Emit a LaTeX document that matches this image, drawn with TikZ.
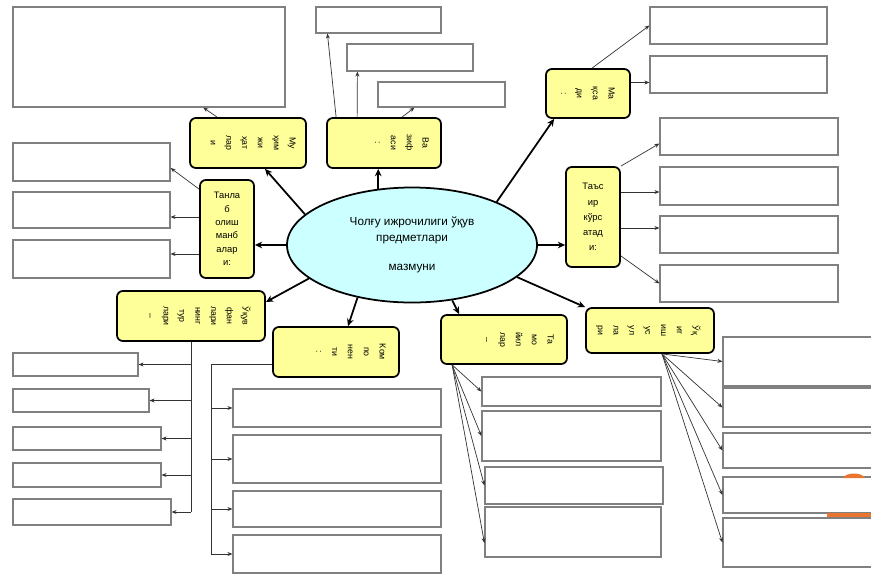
\documentclass[tikz,border=0pt]{standalone}
\usepackage{fontspec}
\setmainfont{Liberation Sans}
\usepackage{tikz}
\usetikzlibrary{calc}
\usetikzlibrary{arrows.meta}
\usetikzlibrary{shapes.geometric}
\definecolor{boxyellow}{RGB}{255,255,153}
\definecolor{topiccyan}{RGB}{204,255,255}
\definecolor{boxgray}{RGB}{128,128,128}
\definecolor{markorange}{RGB}{232,118,48}
\tikzstyle{topicnode}=[black, draw=black, line width=1.5pt, shape=ellipse, fill=topiccyan, inner sep=0pt, align=center, font=\fontsize{10}{13.5}\selectfont]
\tikzstyle{headnode}=[black, draw=black, line width=1.5pt, shape=rectangle, rounded corners=5pt, fill=boxyellow, inner sep=0pt, align=center, font=\fontsize{8}{11.5}\selectfont]
\tikzstyle{sidetext}=[black, inner sep=0pt, align=center, rotate=-90, anchor=north, font=\fontsize{7.5}{13.5}\selectfont]
\tikzstyle{fieldnode}=[draw=boxgray, line width=1pt, shape=rectangle, fill=white, inner sep=0pt]
\tikzstyle{bigarrow}=[-{Stealth[length=0.22cm, width=0.2cm]}, line width=1.5pt, color=black]
\tikzstyle{smallarrow}=[-{Stealth[length=0.15cm, width=0.12cm]}, line width=0.6pt, color=black!80]
\tikzstyle{smallline}=[line width=0.6pt, color=black!80]

\begin{document}
\begin{tikzpicture}[x=0.03cm, y=-0.03cm]
\useasboundingbox (0,0) rectangle (871,574);
\clip (0,0) rectangle (871,574);

\node [topicnode, minimum width=7.5cm, minimum height=3.45cm] (content) at (412,245) {Чолғу ижрочилиги ўқув\\предметлари\\[12pt]мазмуни};

\node [headnode, minimum width=3.48cm, minimum height=1.5cm] (aspects) at (248,143) {};
\node [headnode, minimum width=3.42cm, minimum height=1.5cm] (tasks) at (384,143) {};
\node [headnode, minimum width=1.62cm, minimum height=2.94cm] (sources) at (227,229) {Танла\\б\\олиш\\манб\\алар\\и:};
\node [headnode, minimum width=2.52cm, minimum height=1.47cm] (goal) at (588,93.5) {};
\node [headnode, minimum width=1.62cm, minimum height=3cm, font=\fontsize{8}{13}\selectfont] (influence) at (593,217) {Таъс\\ир\\кўрс\\атад\\и:};
\node [headnode, minimum width=4.44cm, minimum height=1.5cm] (types) at (191,316) {};
\node [headnode, minimum width=3.78cm, minimum height=1.5cm] (parts) at (336,352) {};
\node [headnode, minimum width=3.78cm, minimum height=1.47cm] (principles) at (504,339.5) {};
\node [headnode, minimum width=3.84cm, minimum height=1.35cm] (methods) at (650,330.5) {};

\node [sidetext] (aspectstext) at ($(aspects.east)-(11,0)$) {Му\\ҳим\\жи\\ҳат\\лар\\и};
\node [sidetext] (taskstext) at ($(tasks.east)-(13,0)$) {Ва\\зиф\\аси\\:};
\node [sidetext] (goaltext) at ($(goal.east)-(16,0)$) {Ма\\қса\\ди\\:};
\node [sidetext] (typestext) at ($(types.east)-(15,0)$) {Ўқув\\фан\\лари\\нинг\\тур\\лари\\–};
\node [sidetext] (partstext) at ($(parts.east)-(14,0)$) {Ком\\по\\нен\\ти\\:};
\node [sidetext] (principlestext) at ($(principles.east)-(14,0)$) {Та\\мо\\йил\\лар\\–};
\node [sidetext] (methodstext) at ($(methods.east)-(14,0)$) {Ўқ\\ит\\иш\\ус\\ул\\ла\\ри};

\node [fieldnode, minimum width=8.16cm, minimum height=3cm] (aspects0) at (149,57) {};
\node [fieldnode, minimum width=4.71cm, minimum height=1.14cm] (sources0) at (91.5,162) {};
\node [fieldnode, minimum width=4.71cm, minimum height=1.08cm] (sources1) at (91.5,210) {};
\node [fieldnode, minimum width=4.71cm, minimum height=1.14cm] (sources2) at (91.5,259) {};
\node [fieldnode, minimum width=3.75cm, minimum height=0.78cm] (tasks0) at (378.5,20) {};
\node [fieldnode, minimum width=3.78cm, minimum height=0.81cm] (tasks1) at (410,57.5) {};
\node [fieldnode, minimum width=3.81cm, minimum height=0.75cm] (tasks2) at (441.5,94.5) {};
\node [fieldnode, minimum width=5.31cm, minimum height=1.11cm] (goal0) at (738.5,25.5) {};
\node [fieldnode, minimum width=5.31cm, minimum height=1.11cm] (goal1) at (738.5,74.5) {};
\node [fieldnode, minimum width=5.34cm, minimum height=1.11cm] (influence0) at (749,136.5) {};
\node [fieldnode, minimum width=5.34cm, minimum height=1.14cm] (influence1) at (749,186) {};
\node [fieldnode, minimum width=5.34cm, minimum height=1.11cm] (influence2) at (749,234.5) {};
\node [fieldnode, minimum width=5.34cm, minimum height=1.11cm] (influence3) at (749,283.5) {};
\node [fieldnode, minimum width=3.75cm, minimum height=0.69cm] (types0) at (75.5,364.5) {};
\node [fieldnode, minimum width=4.08cm, minimum height=0.69cm] (types1) at (81,400.5) {};
\node [fieldnode, minimum width=4.44cm, minimum height=0.69cm] (types2) at (87,438.5) {};
\node [fieldnode, minimum width=4.44cm, minimum height=0.72cm] (types3) at (87,475) {};
\node [fieldnode, minimum width=4.74cm, minimum height=0.78cm] (types4) at (92,512) {};
\node [fieldnode, minimum width=6.24cm, minimum height=1.14cm] (parts0) at (337,408) {};
\node [fieldnode, minimum width=6.24cm, minimum height=1.44cm] (parts1) at (337,459) {};
\node [fieldnode, minimum width=6.24cm, minimum height=1.08cm] (parts2) at (337,509) {};
\node [fieldnode, minimum width=6.24cm, minimum height=1.14cm] (parts3) at (337,554) {};
\node [fieldnode, minimum width=5.37cm, minimum height=0.87cm] (principles0) at (571.5,391.5) {};
\node [fieldnode, minimum width=5.37cm, minimum height=1.5cm] (principles1) at (571.5,436) {};
\node [fieldnode, minimum width=5.34cm, minimum height=1.11cm] (principles2) at (574,485.5) {};
\node [fieldnode, minimum width=5.28cm, minimum height=1.5cm] (principles3) at (573,532) {};
\node [fieldnode, minimum width=5.31cm, minimum height=1.47cm] (methods0) at (811.5,361.5) {};
\node [fieldnode, minimum width=5.31cm, minimum height=1.17cm] (methods1) at (811.5,407.5) {};
\node [fieldnode, minimum width=5.31cm, minimum height=1.05cm] (methods2) at (811.5,450.5) {};
\node [fieldnode, minimum width=5.31cm, minimum height=1.08cm] (methods3) at (811.5,495) {};
\node [fieldnode, minimum width=5.31cm, minimum height=1.47cm] (methods4) at (811.5,542.5) {};

\fill [markorange] (843,478) .. controls (846,472) and (862,472) .. (865,478) -- cycle;
\fill [markorange] (827,513) rectangle (871,517);

\draw [bigarrow] (content.164) -- ($(aspects.south)+(17,0)$);
\draw [bigarrow] (content.121) -- (content.121 |- tasks.south);
\draw [bigarrow] (content.west) -- (content.west -| sources.east);
\draw [bigarrow] (content.27) -- ($(goal.south west)+(9,0)$);
\draw [bigarrow] (content.east) -- (content.east -| influence.west);
\draw [bigarrow] (content.198) -- ($(types.east)+(0,-14)$);
\draw [bigarrow] (content.224) -- ($(parts.north)+(12,0)$);
\draw [bigarrow] (content.-54) -- ($(principles.north west)+(19,0)$);
\draw [bigarrow] (content.-17) -- (methods.north west);

\draw [smallarrow] (aspects.140) -- (aspects0.-43);
\draw [smallarrow] ($(tasks.north west)+(10,0)$) -- ($(tasks0.south west)+(12,0)$);
\draw [smallarrow] ($(tasks.north west)+(31,0)$) -- ($(tasks1.south west)+(11,0)$);
\draw [smallarrow] ($(tasks.north)+(18,0)$) -- ($(tasks2.south west)+(37,0)$);
\draw [smallarrow] ($(sources.north west)+(0,10)$) -- ($(sources0.east)+(0,6)$);
\draw [smallarrow] ($(sources.west)+(0,-12)$) -- ($(sources1.east)+(0,7)$);
\draw [smallarrow] ($(sources.west)+(0,25)$) -- ($(sources2.east)+(0,-5)$);
\draw [smallarrow] ($(goal.north)+(4,0)$) -- (goal0.west);
\draw [smallarrow] ($(goal.east)+(0,-11)$) -- ($(goal1.west)+(0,8)$);
\draw [smallarrow] (influence.north east) -- ($(influence0.west)+(0,7)$);
\draw [smallarrow] ($(influence.east)+(0,-25)$) -- ($(influence1.west)+(0,6)$);
\draw [smallarrow] ($(influence.east)+(0,11)$) -- ($(influence2.west)+(0,-6.5)$);
\draw [smallarrow] ($(influence.south east)+(0,-12)$) -- (influence3.west);

\draw [smallline] (types.south) -- (types.south |- types4.east);
\draw [smallarrow] (types.south |- types0.east) -- (types0.east);
\draw [smallarrow] (types.south |- types1.east) -- (types1.east);
\draw [smallarrow] (types.south |- types2.east) -- (types2.east);
\draw [smallarrow] (types.south |- types3.east) -- (types3.east);
\draw [smallarrow] (types.south |- types4.east) -- (types4.east);

\coordinate (partsbus) at ($(parts.west)+(-61,12)$);
\draw [smallline] ($(parts.west)+(0,12)$) -- (partsbus) -- (partsbus |- parts3.west);
\draw [smallarrow] (partsbus |- parts0.west) -- (parts0.west);
\draw [smallarrow] (partsbus |- parts1.west) -- (parts1.west);
\draw [smallarrow] (partsbus |- parts2.west) -- (parts2.west);
\draw [smallarrow] (partsbus |- parts3.west) -- (parts3.west);

\draw [smallarrow] ($(principles.south west)+(12,0)$) -- (principles0.west);
\draw [smallarrow] ($(principles.south west)+(12,0)$) -- (principles1.west);
\draw [smallarrow] ($(principles.south west)+(12,0)$) -- (principles2.west);
\draw [smallarrow] ($(principles.south west)+(12,0)$) -- ($(principles3.west)+(0,11)$);

\draw [smallarrow] ($(methods.south)+(12,0)$) -- (methods0.west);
\draw [smallarrow] ($(methods.south)+(12,0)$) -- (methods1.west);
\draw [smallarrow] ($(methods.south)+(12,0)$) -- (methods2.west);
\draw [smallarrow] ($(methods.south)+(12,0)$) -- (methods3.west);
\draw [smallarrow] ($(methods.south)+(12,0)$) -- (methods4.west);
\end{tikzpicture}
\end{document}
